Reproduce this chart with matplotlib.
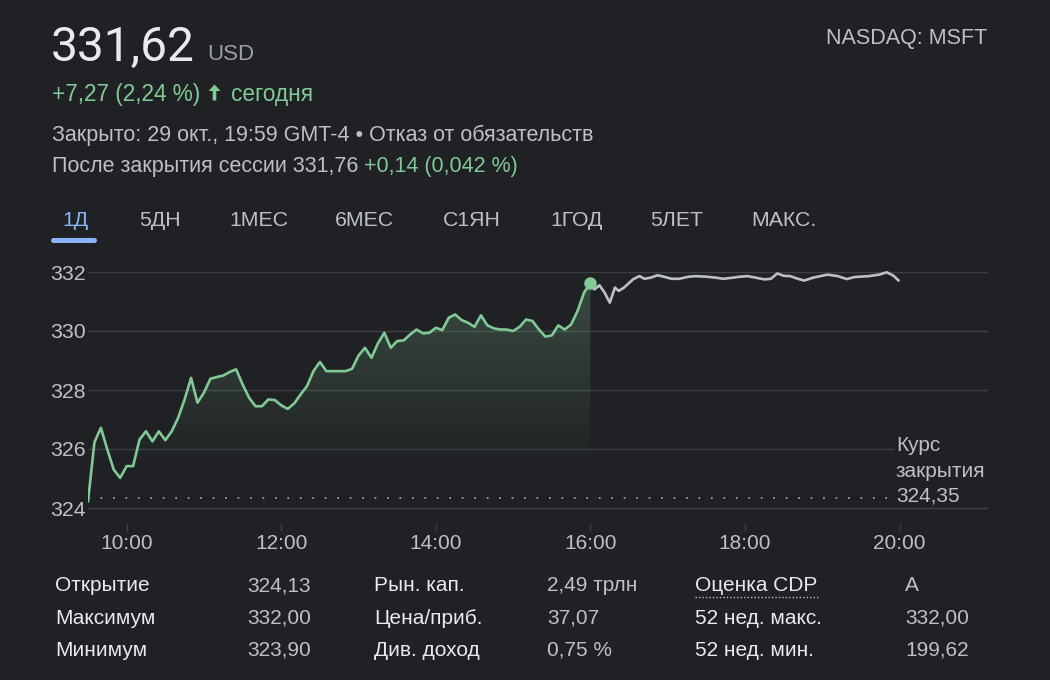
import numpy as np
import matplotlib.pyplot as plt
from matplotlib.patches import Polygon
from matplotlib.lines import Line2D

plt.rcParams['font.family'] = ['Liberation Sans', 'DejaVu Sans']

BG = '#202124'
GREEN = '#81c995'
GRID = '#3c4043'
LIGHT = '#e8eaed'
GRAY = '#bdc1c6'
DIM = '#9aa0a6'
BLUE = '#8ab4f8'

# regular session, one value per 5 minutes from 9:30 to 16:00
session_prices = [
    324.23, 326.23, 326.72, 325.98, 325.30, 325.02, 325.42, 325.42, 326.32, 326.60,
    326.26, 326.60, 326.30, 326.60, 327.06, 327.68, 328.41, 327.57, 327.91, 328.38,
    328.44, 328.49, 328.61, 328.70, 328.19, 327.74, 327.45, 327.45, 327.68, 327.66,
    327.48, 327.36, 327.54, 327.85, 328.13, 328.64, 328.95, 328.64, 328.64, 328.64,
    328.64, 328.72, 329.17, 329.43, 329.09, 329.58, 329.94, 329.43, 329.66, 329.68,
    329.88, 330.05, 329.92, 329.94, 330.11, 330.03, 330.45, 330.56, 330.37, 330.28,
    330.14, 330.53, 330.19, 330.09, 330.05, 330.05, 330.00, 330.14, 330.39, 330.34,
    330.05, 329.81, 329.85, 330.19, 330.05, 330.22, 330.68, 331.30, 331.62,
]

# after-hours: minutes after 16:00 and price
after_minutes = [0, 3, 7, 11, 15, 19, 22, 26, 33, 38, 42, 47, 52, 57, 63, 69, 76, 82,
                 90, 97, 103, 109, 116, 122, 128, 135, 140, 145, 150, 155, 161, 166,
                 173, 184, 192, 199, 205, 216, 224, 230, 235, 239]
after_prices = [331.62, 331.41, 331.55, 331.30, 330.96, 331.47, 331.36, 331.47, 331.75,
                331.86, 331.77, 331.81, 331.89, 331.84, 331.77, 331.77, 331.84, 331.86,
                331.84, 331.81, 331.77, 331.80, 331.84, 331.86, 331.81, 331.75, 331.77,
                331.95, 331.87, 331.86, 331.77, 331.71, 331.81, 331.91, 331.86, 331.76,
                331.83, 331.86, 331.91, 331.99, 331.88, 331.72]

prev_close = 324.35

y_ticks = [324, 326, 328, 330, 332]
y_labels = ['324', '326', '328', '330', '332']
x_ticks = [10, 12, 14, 16, 18, 20]
x_labels = ['10:00', '12:00', '14:00', '16:00', '18:00', '20:00']

tabs = ['1Д', '5ДН', '1МЕС', '6МЕС', 'С1ЯН', '1ГОД', '5ЛЕТ', 'МАКС.']
tab_x = [62, 139, 229, 335, 443, 550, 650, 751]

stat_labels = [['Открытие', 'Максимум', 'Минимум'],
               ['Рын. кап.', 'Цена/приб.', 'Див. доход'],
               ['Оценка CDP', '52 нед. макс.', '52 нед. мин.']]
stat_values = [['324,13', '332,00', '323,90'],
               ['2,49 трлн', '37,07', '0,75 %'],
               ['A', '332,00', '199,62']]

W, H = 1050, 680
fig = plt.figure(figsize=(W / 100, H / 100), dpi=100, facecolor=BG)


def ftext(x, y, s, **kw):
    kw.setdefault('va', 'baseline')
    return fig.text(x / W, 1 - y / H, s, **kw)


def fxy(pts):
    return [(x / W, 1 - y / H) for x, y in pts]


# ---------- chart ----------
ax = fig.add_axes([88 / W, 1 - 522.75 / H, 900 / W, 265.5 / H])
ax.set_facecolor(BG)
x_left, x_right = 9.5, 9.5 + 900 / 77.3

t_sess = 9.5 + np.arange(len(session_prices)) * 5 / 60
t_after = 16 + np.array(after_minutes) / 60

ax.hlines([324, 328, 330, 332], x_left, x_right, colors=GRID, lw=1, zorder=0)
ax.hlines([326], x_left, 19.93, colors=GRID, lw=1, zorder=0)

# gradient under the regular session
verts = [(t_sess[0], prev_close)] + list(zip(t_sess, session_prices)) + [(t_sess[-1], prev_close)]
poly = Polygon(verts, closed=True, facecolor='none', edgecolor='none')
ax.add_patch(poly)
grad = np.zeros((256, 1, 4))
grad[..., :3] = np.array([129, 201, 149]) / 255
grad[:, 0, 3] = np.clip(np.linspace(0.25, -0.04, 256), 0, None)
im = ax.imshow(grad, extent=[t_sess[0], t_sess[-1], prev_close, max(session_prices)],
               origin='upper', aspect='auto', zorder=1)
im.set_clip_path(poly)

ax.plot([x_left, 19.92], [prev_close, prev_close], color=DIM, lw=1.3,
        linestyle=(0, (1, 5.9)), zorder=2)
ax.plot(t_after, after_prices, color=GRAY, lw=1.9, zorder=3)
ax.plot(t_sess, session_prices, color=GREEN, lw=1.9, zorder=4)
ax.plot(t_sess[-1], session_prices[-1], 'o', ms=8, color=GREEN, zorder=5)

ax.set_xlim(x_left, x_right)
ax.set_ylim(323.5, 332.5)
ax.set_xticks(x_ticks, x_labels)
ax.set_yticks(y_ticks, y_labels)
ax.tick_params(axis='x', length=5.5, width=1, color=GRID, pad=2.5, labelsize=15, labelcolor=GRAY)
ax.tick_params(axis='y', length=0, pad=1.5, labelsize=15.3, labelcolor=GRAY)
for s in ax.spines.values():
    s.set_visible(False)

ftext(896, 451, 'Курс', fontsize=15, color=GRAY)
ftext(896, 477, 'закрытия', fontsize=15, color=GRAY)
ftext(896, 502, '324,35', fontsize=15, color=GRAY)

# ---------- header ----------
ftext(51, 61, '331,62', fontsize=34.5, color=LIGHT, family=['Roboto', 'DejaVu Sans'])
ftext(207, 60, 'USD', fontsize=16, color=DIM)
ftext(826, 44, 'NASDAQ: MSFT', fontsize=15.5, color=GRAY)

ftext(52, 101, '+7,27 (2,24 %)', fontsize=16.3, color=GREEN)
fig.add_artist(Polygon(fxy([(214.5, 84.5), (220.5, 91), (216.3, 91), (216.3, 100.5),
                            (212.7, 100.5), (212.7, 91), (208.5, 91)]),
                       closed=True, transform=fig.transFigure, facecolor=GREEN, edgecolor='none'))
ftext(231, 101, 'сегодня', fontsize=16.3, color=GREEN)

ftext(52, 141, 'Закрыто: 29 окт., 19:59 GMT-4 • Отказ от обязательств', fontsize=15.5, color=GRAY)
ftext(52, 172, 'После закрытия сессии 331,76', fontsize=15.5, color=GRAY)
ftext(364, 172, '+0,14 (0,042 %)', fontsize=15.5, color=GREEN)

for i, (label, x) in enumerate(zip(tabs, tab_x)):
    ftext(x, 226, label, fontsize=15.3, color=BLUE if i == 0 else GRAY)
fig.add_artist(Line2D([53 / W, 94 / W], [1 - 239.5 / H, 1 - 239.5 / H], transform=fig.transFigure,
                      color=BLUE, lw=3.6, solid_capstyle='round'))

# ---------- stats table ----------
col_label_x = [55, 374, 695]
col_value_x = [247, 547, 905]
row_y = [591, 624, 656]
for c in range(3):
    for r in range(3):
        ftext(col_label_x[c], row_y[r], stat_labels[c][r], fontsize=15, color=LIGHT)
        ftext(col_value_x[c], row_y[r], stat_values[c][r], fontsize=15, color=GRAY)
fig.add_artist(Line2D([695 / W, 818 / W], [1 - 597 / H, 1 - 597 / H], transform=fig.transFigure,
                      color=GRAY, lw=1, linestyle=(0, (1, 1.5))))

fig.savefig('out.png', dpi=100, facecolor=BG)
